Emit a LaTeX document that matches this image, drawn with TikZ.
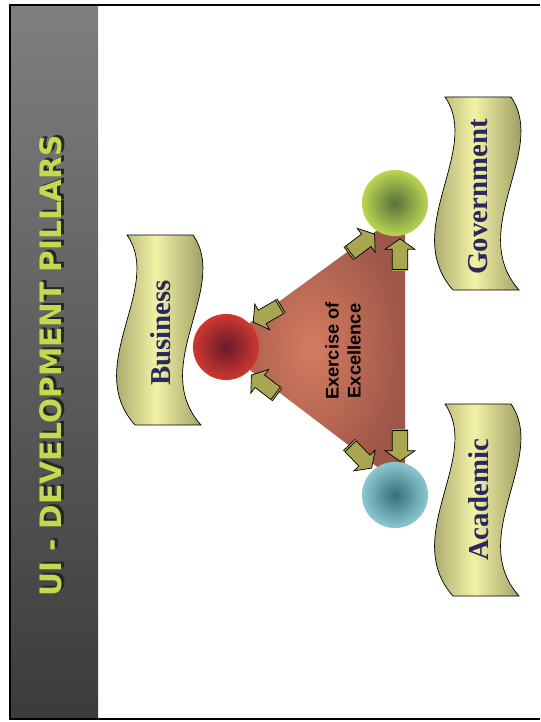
\documentclass[tikz,border=0pt]{standalone}
\usepackage{fontspec}
\setmainfont{Liberation Serif}
\newfontfamily\titlefont{DejaVu Sans}
\newfontfamily\arialfont{Liberation Sans}
\usepackage{tikz}
\usetikzlibrary{shapes.arrows}

\definecolor{barTop}{RGB}{128,126,127}
\definecolor{barBottom}{RGB}{60,58,59}
\definecolor{titleGreen}{RGB}{196,218,78}
\definecolor{scrollDark}{RGB}{112,112,66}
\definecolor{scrollLight}{RGB}{242,242,166}
\definecolor{labelBlue}{RGB}{42,40,92}
\definecolor{triOuter}{RGB}{158,86,72}
\definecolor{triInner}{RGB}{212,124,96}
\definecolor{arrowOlive}{RGB}{168,166,80}
\definecolor{busOuter}{RGB}{206,56,46}
\definecolor{busInner}{RGB}{104,26,44}
\definecolor{govOuter}{RGB}{186,214,80}
\definecolor{govInner}{RGB}{88,112,62}
\definecolor{acaOuter}{RGB}{140,200,210}
\definecolor{acaInner}{RGB}{56,110,118}

\tikzset{
  scrollshape/.style={draw=black, line width=0.5pt, left color=scrollDark,
    right color=scrollDark, middle color=scrollLight},
  pillarlabel/.style={rotate=90, text=labelBlue,
    font=\bfseries\fontsize{20.5}{24}\selectfont}
}

\newcommand\pillarscroll[3]{%
  \draw[scrollshape]
    (#1,#2) .. controls ({#1+37},{#2+0.275*#3}) and ({#1-45},{#2+0.69*#3}) .. ({#1+8},{#2+#3})
    -- ({#1+74},{#2+#3})
    .. controls ({#1+21},{#2+0.69*#3}) and ({#1+103},{#2+0.275*#3}) .. ({#1+66},#2) -- cycle;}

\begin{document}
\begin{tikzpicture}[x=0.025cm, y=-0.025cm]
\useasboundingbox (0,0) rectangle (540,722);
\fill[white] (0,0) rectangle (540,722);

\shade[top color=barTop, bottom color=barBottom] (10,5) rectangle (98,719);
\draw[line width=1.3pt] (540,5) -- (10,5) -- (10,719) -- (540,719);

\node[rotate=90, text=black!85, font=\titlefont\bfseries\fontsize{21}{24}\selectfont] (titleshadow) at (53.5,364) {UI - DEVELOPMENT PILLARS};
\node[rotate=90, text=titleGreen, font=\titlefont\bfseries\fontsize{21}{24}\selectfont] (title) at (51,366) {UI - DEVELOPMENT PILLARS};

\pillarscroll{127}{235}{190}
\pillarscroll{445}{97}{193}
\pillarscroll{445}{404}{192}
\node[pillarlabel] (busl) at (161,333) {Business};
\node[pillarlabel] (govl) at (478,197) {Government};
\node[pillarlabel] (acal) at (479,500) {Academic};

\shade[inner color=triInner, outer color=triOuter] (218,346) -- (405,210) -- (405,488) -- cycle;

\begin{scope}[every node/.style={circle, minimum size=47pt, inner sep=0pt}]
    \node[inner color=busInner, outer color=busOuter] (bus) at (226,347) {};
    \node[inner color=govInner, outer color=govOuter] (gov) at (395,203) {};
    \node[inner color=acaInner, outer color=acaOuter] (aca) at (395,495) {};
\end{scope}

\begin{scope}[every node/.style={single arrow, draw=black, fill=arrowOlive, line width=0.5pt,
              inner sep=0pt, inner ysep=5.3pt, minimum height=22pt, minimum width=20.6pt,
              single arrow head extend=5pt, single arrow tip angle=110}]
    \node[rotate=37] (a1) at (360,245) {};
    \node[rotate=90] (a2) at (400,257) {};
    \node[rotate=-90] (a3) at (400,443) {};
    \node[rotate=-46] (a4) at (359,455) {};
    \node[rotate=210] (a5) at (269,313) {};
    \node[rotate=143] (a6) at (266,386) {};
\end{scope}
\foreach \a in {a1,a2,a3,a4,a5,a6}
    \draw[line width=0.6pt, double=arrowOlive, double distance=0.7pt] (\a.before tail) -- (\a.after tail);

\node[rotate=90, align=center, font=\arialfont\bfseries\fontsize{13}{15.6}\selectfont] (core) at (343,351) {Exercise of\\Excellence};
\end{tikzpicture}
\end{document}
